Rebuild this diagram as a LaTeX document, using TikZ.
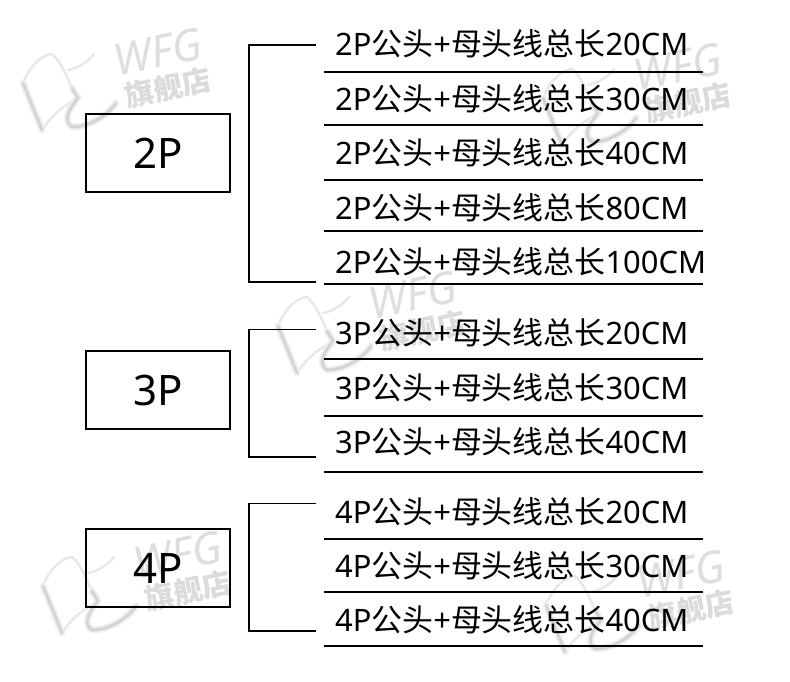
\documentclass[tikz,border=0pt]{standalone}
\usepackage{fontspec}
\setmainfont{Noto Sans}
\newfontfamily\cjkf{Noto Sans CJK SC}
\newcommand{\rowtext}[2]{#1{\cjkf 公头}+{\cjkf 母头线总长}#2}
\tikzset{
  px/.style={x=1pt,y=-1pt},
  groupbox/.style={draw=black,line width=2pt,minimum width=144pt,minimum height=77.6pt,inner sep=0pt,font=\fontsize{42}{42}\selectfont},
  rowlabel/.style={anchor=west,inner sep=0pt,font=\fontsize{30.9}{32}\selectfont},
  rowrule/.style={draw=black,line width=2pt},
  thickbracket/.style={draw=black,line width=2pt},
  thinbracket/.style={draw=black,line width=1.1pt},
  wmhalo/.style={draw=black!6,line width=7pt,line cap=round,line join=round},
  wmshape/.style={draw=black!17,line width=3pt,line cap=round,line join=round},
  wmthin/.style={draw=black!9,line width=2.5pt,line cap=round,line join=round},
  wmtext/.style={inner sep=0pt,rotate=12}
}
\newcommand{\wmlogo}[1]{%
  \draw[#1] (23,83) -- (42,130)
     (72,88) -- (78,98) .. controls (70,108) and (62,120) .. (72,127) .. controls (90,127) and (108,115) .. (116,103);}
\newcommand{\wm}[3]{%
 \begin{scope}[shift={(#1,#2)}]
  \draw[wmthin] (23,83) .. controls (30,65) and (42,55) .. (52,54) .. controls (60,60) and (66,75) .. (72,88)
     (42,130) .. controls (50,118) and (60,108) .. (75,100)
     (68,70) .. controls (78,68) and (88,62) .. (94,54);
  \wmlogo{wmhalo}
  \wmlogo{wmshape}
  \node[wmtext,text=black!13,font=\fontsize{44}{44}\selectfont\bfseries\itshape] (wfg#3) at (158,52) {WFG};
  \node[wmtext,text=black!14,font=\cjkf\bfseries\fontsize{29}{29}\selectfont] (shop#3) at (168,88) {旗舰店};
 \end{scope}}
\begin{document}
\begin{tikzpicture}[px]
\useasboundingbox (0,0) rectangle (790,681);
\fill[white] (0,0) rectangle (790,681);
\wm{0}{0}{a}
\wm{520}{15}{b}
\wm{255}{243}{c}
\wm{20}{503}{d}
\wm{523}{522}{e}

\node[groupbox] (g2) at (158,153) {2P};
\node[groupbox] (g3) at (158,390) {3P};
\node[groupbox] (g4) at (158,568) {4P};

\node[rowlabel] (a1) at (335,44) {\rowtext{2P}{20CM}};
\node[rowlabel] (a2) at (335,99) {\rowtext{2P}{30CM}};
\node[rowlabel] (a3) at (335,153) {\rowtext{2P}{40CM}};
\node[rowlabel] (a4) at (335,208) {\rowtext{2P}{80CM}};
\node[rowlabel] (a5) at (335,262) {\rowtext{2P}{100CM}};
\node[rowlabel] (b1) at (335,333) {\rowtext{3P}{20CM}};
\node[rowlabel] (b2) at (335,388) {\rowtext{3P}{30CM}};
\node[rowlabel] (b3) at (335,442) {\rowtext{3P}{40CM}};
\node[rowlabel] (c1) at (335,512) {\rowtext{4P}{20CM}};
\node[rowlabel] (c2) at (335,566) {\rowtext{4P}{30CM}};
\node[rowlabel] (c3) at (335,620) {\rowtext{4P}{40CM}};

\foreach \n/\y in {ra1/71.5,ra2/125,ra3/180,ra4/231,ra5/284,rb1/359,rb2/415.5,rb3/471.5,rc1/539,rc2/592,rc3/646}{
  \coordinate (\n l) at (324,\y);
  \coordinate (\n r) at (703,\y);
  \draw[rowrule] (\n l) -- (\n r);
}

\coordinate (s2t) at (316,45);
\coordinate (c2t) at (249,45);
\coordinate (c2b) at (249,282);
\coordinate (s2b) at (316,282);
\draw[thickbracket] (s2t) -- (c2t) -- (c2b) -- (s2b);
\coordinate (s3t) at (316,329.5);
\coordinate (c3t) at (249,329.5);
\coordinate (c3b) at (249,457);
\coordinate (s3b) at (316,457);
\draw[thinbracket] (s3t) -- (c3t) -- (c3b) -- (s3b);
\coordinate (s4t) at (316,503.5);
\coordinate (c4t) at (249,503.5);
\coordinate (c4b) at (249,631);
\coordinate (s4b) at (316,631);
\draw[thinbracket] (s4t) -- (c4t) -- (c4b) -- (s4b);
\end{tikzpicture}
\end{document}
